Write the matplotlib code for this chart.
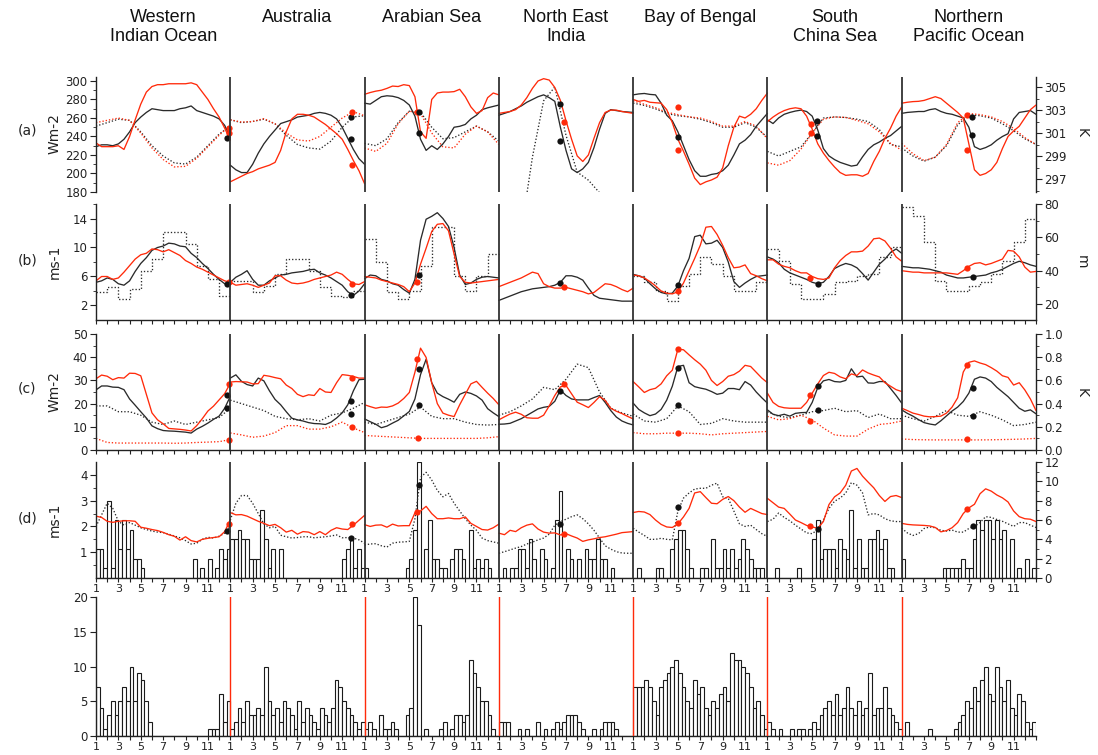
import numpy as np
import matplotlib
matplotlib.use("Agg")
import matplotlib.pyplot as plt

# ---------------------------------------------------------------- data
REGIONS = ["Western\nIndian Ocean", "Australia", "Arabian Sea", "North East\nIndia",
           "Bay of Bengal", "South\nChina Sea", "Northern\nPacific Ocean"]
HALF = np.arange(1.0, 13.01, 0.5)      # half-monthly sample points (25)
MON = np.arange(1, 14)                 # monthly points (13)
XLABELS = [1, 3, 5, 7, 9, 11]

# (a) radiation, Wm-2 (solid) ; SST, K (dotted)
A_RAD_RED = [
    [233, 229, 229, 229, 230, 226, 240, 258, 275, 288, 294, 296, 296, 297, 297, 297, 297, 298, 296, 288, 280, 270, 261, 249, 236],
    [191, 194, 197, 200, 202, 205, 207, 209, 212, 225, 245, 259, 264, 264, 263, 261, 257, 253, 248, 243, 237, 226, 214, 203, 189],
    [285.6, 287.5, 289, 290, 292, 294.5, 294, 296, 295, 283, 245, 238, 280, 287, 288, 288, 288.5, 291, 283, 272, 265, 268, 282, 287, 285],
    [265, 266, 267, 269, 274, 282, 292, 300, 302.5, 301, 293, 279, 257, 237, 219, 213, 220, 238, 255, 266, 268.5, 268.5, 267, 266, 265],
    [280, 278, 279, 277, 276.5, 276, 269, 255, 237, 224, 210, 195, 188, 191, 193, 196, 206, 230, 250, 262, 260, 264, 270, 279, 287],
    [256, 261, 265, 268, 270, 271, 270, 262, 248, 232, 222, 214, 207, 201, 198, 198.6, 198.6, 197, 200, 213, 224, 238, 249, 262, 272],
    [276, 277, 277.7, 278, 279, 281, 283, 281, 276, 271, 266, 260, 232, 204, 198, 200, 204, 212, 227, 240, 246, 251, 260, 269, 274],
]
A_RAD_BLACK = [
    [229, 231, 231, 230, 232, 237, 245, 255, 261, 266, 270, 269, 268, 268, 268, 270, 271, 273, 268, 266, 264, 262, 259, 252, 239],
    [209, 204, 201, 201, 210, 222, 232, 240, 247, 254, 256, 258, 261, 262, 263, 265, 266, 265, 263, 259, 250, 238, 226, 216, 210],
    [276, 275, 279, 283, 284, 283.5, 282, 279, 274, 262, 237, 225, 230, 226, 232, 240, 250, 251, 253, 259, 263, 269, 271, 272.5, 274],
    [263, 265, 267, 270, 273, 277, 280, 283, 285, 282, 278, 250, 225, 205, 201, 205, 212, 228, 248, 265, 269, 268, 267, 266.5, 266],
    [285, 286, 286.5, 285.5, 285, 276, 263, 257, 245, 230, 215, 203, 197, 197, 199, 200, 203, 209, 220, 232, 236, 242, 251, 258, 265],
    [258, 254, 260, 264, 266, 267.5, 268.5, 267, 262, 247, 227, 219, 215, 212, 210, 208, 209, 218, 226, 231, 234, 238, 241, 246, 251],
    [265, 266, 266.5, 267, 267, 269, 270, 267, 265, 264, 262, 260, 250, 229, 226, 228, 231, 236, 240, 243, 259, 266, 267, 268, 264],
]
A_SST_RED = [
    [301.9, 302.1, 302.3, 302.1, 301.0, 299.7, 298.7, 298.05, 298.1, 298.8, 299.8, 300.8, 301.7],
    [302.15, 301.95, 302.0, 302.25, 301.8, 301.0, 300.4, 300.3, 300.7, 301.5, 302.3, 302.85, 302.5],
    [299.7, 299.4, 300.1, 301.8, 302.9, 302.7, 301.0, 299.8, 299.7, 300.9, 301.6, 301.1, 300.0],
    None,
    [303.8, 303.5, 303.2, 302.8, 302.6, 302.4, 302.3, 302.0, 301.6, 301.6, 302.0, 301.6, 300.5],
    [298.4, 298.2, 298.6, 299.6, 301.0, 302.2, 302.4, 302.35, 302.1, 301.8, 301.1, 300.1, 299.5],
    [300.1, 299.2, 298.6, 298.9, 300.0, 301.9, 302.7, 302.6, 302.4, 302.0, 301.4, 300.6, 300.0],
]
A_SST_BLACK = [
    [301.6, 301.9, 302.2, 302.1, 301.1, 299.9, 299.0, 298.4, 298.3, 298.9, 299.9, 300.9, 301.6],
    [302.15, 301.9, 302.0, 302.2, 301.8, 300.8, 300.0, 299.7, 299.6, 300.3, 301.5, 302.4, 302.5],
    [300.1, 299.9, 300.5, 301.9, 302.9, 302.8, 301.5, 300.5, 300.6, 301.1, 301.6, 301.1, 300.3],
    [288, 290, 292.5, 298.9, 303.8, 305.0, 300.8, 297.6, 296.9, 295.8, 294, 293, 292],
    [303.6, 303.4, 303.1, 302.7, 302.5, 302.4, 302.2, 301.9, 301.5, 301.5, 301.9, 301.5, 300.6],
    [299.4, 299.0, 299.4, 299.8, 301.0, 302.3, 302.4, 302.35, 302.2, 302.0, 301.3, 300.0, 299.8],
    [299.7, 299.0, 298.55, 298.9, 299.9, 301.7, 302.6, 302.5, 302.3, 301.8, 301.2, 300.5, 300.0],
]
# onset markers: (region, month, value on left axis, colour)
A_DOTS = [(0, 12.85, 249, "r"), (0, 12.85, 244, "r"), (0, 12.7, 238, "k"),
          (1, 11.8, 261, "k"), (1, 11.8, 237.5, "k"), (1, 11.9, 267, "r"), (1, 11.9, 209, "r"),
          (2, 5.7, 267, "r"), (2, 5.85, 266, "k"), (2, 5.85, 243.6, "k"),
          (3, 6.45, 275, "k"), (3, 6.45, 234.6, "k"), (3, 6.8, 256, "r"),
          (4, 5.0, 271.5, "r"), (4, 5.0, 239.5, "k"), (4, 5.0, 225.5, "r"),
          (5, 4.85, 253.6, "r"), (5, 4.85, 244, "r"), (5, 5.45, 257, "k"), (5, 5.45, 240, "k"),
          (6, 6.8, 263, "r"), (6, 7.3, 261, "k"), (6, 7.3, 242, "k"), (6, 6.8, 225, "r")]

# (b) wind speed ms-1 (solid) ; mixed layer depth m (dotted, monthly)
B_WIND_RED = [
    [5.4, 6.0, 6.0, 5.6, 5.8, 6.6, 7.5, 8.4, 9.0, 9.2, 9.8, 9.7, 9.4, 9.7, 9.3, 8.9, 8.2, 7.8, 7.3, 7.0, 6.6, 6.2, 5.8, 5.4, 5.2],
    [5.2, 4.8, 4.9, 5.0, 4.8, 4.5, 4.8, 5.1, 6.1, 6.1, 5.5, 5.1, 5.0, 5.1, 5.3, 5.6, 5.8, 6.0, 6.2, 6.6, 6.3, 5.6, 5.0, 4.9, 5.3],
    [6.0, 5.9, 5.8, 5.5, 5.3, 5.1, 4.9, 4.6, 3.9, 5.1, 7.7, 9.9, 12.2, 13.2, 13.3, 12.3, 9.1, 6.0, 5.2, 5.1, 5.2, 5.3, 5.4, 5.5, 5.6],
    [4.6, 4.9, 5.2, 5.5, 5.8, 6.2, 6.6, 6.4, 5.0, 4.6, 4.4, 4.4, 4.5, 4.3, 4.1, 3.9, 3.6, 3.8, 4.4, 5.0, 4.9, 4.6, 4.2, 3.9, 4.4],
    [6.2, 6.1, 5.8, 5.3, 4.7, 4.0, 3.7, 3.6, 3.9, 5.1, 6.8, 8.5, 10.3, 12.8, 12.9, 11.8, 10.3, 8.6, 7.2, 7.3, 7.6, 6.4, 6.1, 5.7, 5.4],
    [8.3, 8.3, 7.7, 7.4, 7.2, 6.8, 6.5, 6.5, 6.0, 5.7, 5.6, 5.8, 7.2, 8.2, 8.9, 9.4, 9.4, 9.5, 10.2, 11.2, 11.3, 10.9, 9.9, 8.7, 8.1],
    [6.8, 6.7, 6.6, 6.6, 6.5, 6.5, 6.5, 6.5, 6.5, 6.4, 6.3, 6.8, 7.4, 7.8, 7.9, 7.6, 7.8, 8.1, 8.4, 9.6, 9.5, 8.7, 7.3, 6.6, 6.7],
]
B_WIND_BLACK = [
    [5.2, 5.4, 5.8, 5.6, 5.0, 4.8, 5.4, 6.7, 7.8, 8.6, 9.6, 10.0, 10.2, 10.6, 10.5, 10.2, 10.1, 9.2, 8.6, 7.8, 7.1, 6.3, 5.6, 5.0, 5.1],
    [5.2, 5.9, 6.3, 6.8, 5.6, 4.8, 4.8, 5.4, 5.8, 6.2, 6.3, 6.5, 6.6, 6.7, 6.9, 7.0, 6.5, 6.2, 5.8, 5.3, 4.8, 3.9, 3.4, 4.0, 5.0],
    [5.7, 6.2, 6.1, 5.6, 5.4, 5.0, 4.8, 4.2, 3.7, 5.6, 11.0, 13.9, 14.3, 14.8, 14.0, 12.9, 10.0, 6.2, 4.9, 5.1, 5.6, 5.9, 6.0, 5.9, 5.8],
    [2.7, 3.0, 3.3, 3.6, 3.9, 4.1, 4.3, 4.4, 4.5, 4.6, 4.8, 5.2, 6.1, 6.1, 5.9, 5.5, 4.4, 3.4, 3.0, 2.9, 2.8, 2.7, 2.6, 2.6, 2.6],
    [6.3, 6.1, 5.8, 5.0, 4.3, 3.8, 3.6, 3.7, 4.7, 6.8, 8.5, 11.5, 11.7, 10.5, 10.6, 11.0, 10.0, 8.0, 5.3, 4.5, 5.1, 5.6, 6.0, 6.1, 6.2],
    [8.7, 8.4, 7.9, 7.0, 6.5, 6.2, 5.9, 5.6, 5.2, 5.0, 5.2, 6.0, 7.1, 7.5, 7.8, 7.6, 7.2, 6.4, 5.5, 6.6, 7.7, 8.4, 9.3, 9.8, 9.2],
    [7.4, 7.3, 7.2, 7.2, 7.1, 7.0, 6.8, 6.6, 6.2, 6.0, 5.8, 5.8, 5.9, 6.0, 6.1, 6.2, 6.5, 6.7, 7.0, 7.4, 7.8, 8.1, 7.9, 7.6, 7.4],
]
B_MLD = [
    [27, 30, 23, 29, 40, 47, 63, 63, 56, 43, 35, 25],
    [34, 34, 27, 31, 38, 47, 47, 40, 30, 25, 24, 28],
    [59, 45, 27, 23, 28, 43, 66, 66, 37, 28, 37, 50],
    None,
    [37, 33, 28, 22, 31, 38, 48, 44, 37, 28, 28, 33],
    [53, 46, 32, 23, 23, 26, 33, 34, 37, 38, 48, 54],
    [78, 73, 57, 34, 28, 28, 31, 33, 38, 46, 57, 71],
]
B_DOTS = [(0, 12.85, 5.2, "r"), (0, 12.7, 4.95, "k"), (1, 11.9, 4.95, "r"), (1, 11.8, 3.5, "k"),
          (2, 5.85, 6.2, "k"), (2, 5.7, 5.2, "r"), (3, 6.45, 5.1, "k"), (3, 6.8, 4.6, "r"),
          (4, 5.05, 4.8, "k"), (4, 5.05, 4.0, "r"), (5, 4.83, 5.8, "r"), (5, 5.48, 5.0, "k"),
          (6, 6.85, 7.2, "r"), (6, 7.33, 5.9, "k")]

# (c) flux Wm-2 (solid) ; temperature difference K (dotted, monthly)
C_FLUX_RED = [
    [30.7, 32.3, 31.8, 30.3, 31.2, 31.0, 33.1, 33.0, 32.0, 24.0, 16.0, 13.0, 11.3, 9.3, 9.1, 8.9, 8.6, 8.2, 10.5, 13.5, 16.8, 18.9, 21.6, 24.3, 28.8],
    [29.3, 29.5, 29.4, 29.3, 28.5, 28.6, 32.2, 31.8, 31.2, 30.7, 28.0, 26.5, 24.0, 23.0, 23.8, 23.5, 26.5, 25.0, 24.8, 29.0, 32.5, 32.2, 31.7, 31.0, 31.0],
    [19.5, 18.7, 18.0, 18.5, 18.4, 19.0, 20.2, 22.2, 24.8, 33.5, 43.9, 39.9, 29.0, 20.0, 15.9, 15.0, 14.4, 19.5, 24.0, 28.5, 29.6, 27.0, 24.5, 22.2, 19.5],
    [13.0, 14.3, 15.5, 16.3, 15.4, 13.9, 13.7, 13.7, 15.0, 19.0, 23.5, 27.2, 27.8, 24.2, 20.6, 19.5, 18.3, 20.5, 23.0, 21.4, 18.0, 16.7, 15.7, 14.5, 13.4],
    [29.5, 27.2, 24.8, 26.0, 26.6, 28.5, 32.0, 34.4, 43.5, 43.2, 41.0, 38.9, 37.0, 34.4, 30.0, 27.8, 29.5, 31.8, 32.5, 34.0, 36.5, 36.0, 33.5, 31.0, 29.0],
    [24.5, 20.5, 18.8, 18.2, 18.0, 18.0, 18.0, 20.5, 24.5, 28.5, 32.1, 33.5, 33.0, 31.5, 30.7, 32.8, 32.1, 34.5, 33.2, 32.3, 31.5, 29.0, 27.5, 26.0, 25.2],
    [18.0, 17.0, 15.9, 15.3, 14.6, 14.3, 14.4, 14.6, 15.9, 18.5, 22.5, 33.6, 37.8, 38.4, 37.5, 36.8, 35.5, 34.0, 32.0, 31.3, 28.0, 29.0, 25.9, 22.0, 17.0],
]
C_FLUX_BLACK = [
    [25.9, 27.6, 27.6, 27.1, 27.0, 26.0, 22.0, 19.3, 16.5, 13.8, 10.4, 9.2, 8.4, 8.2, 8.1, 7.9, 7.7, 7.3, 9.0, 10.2, 11.6, 13.2, 14.6, 18.0, 23.1],
    [31.0, 32.4, 29.6, 28.2, 27.6, 31.0, 29.8, 25.5, 21.8, 19.5, 16.5, 13.7, 13.0, 12.5, 11.8, 11.4, 11.3, 11.0, 12.0, 13.8, 16.0, 19.5, 25.5, 30.3, 30.5],
    [13.4, 12.2, 11.1, 9.6, 10.3, 11.6, 12.8, 14.7, 16.6, 22.0, 32.5, 39.1, 29.0, 24.5, 23.0, 21.9, 20.6, 24.0, 25.0, 24.4, 23.3, 21.5, 17.8, 16.0, 14.4],
    [11.1, 11.2, 11.5, 12.5, 13.5, 14.9, 16.3, 17.7, 18.4, 18.8, 21.0, 25.9, 23.5, 22.0, 21.6, 21.6, 21.6, 22.6, 23.5, 20.5, 17.0, 14.2, 12.5, 11.5, 10.8],
    [20.2, 17.5, 16.0, 14.8, 15.5, 17.5, 21.5, 27.5, 36.0, 36.5, 29.0, 27.3, 26.7, 26.2, 25.2, 24.0, 24.5, 26.5, 26.5, 26.0, 29.5, 28.0, 25.0, 22.5, 20.2],
    [17.3, 15.4, 14.8, 15.4, 14.6, 15.8, 16.1, 16.2, 20.5, 27.0, 29.8, 30.4, 29.5, 29.3, 30.0, 35.0, 31.5, 31.8, 28.9, 28.8, 29.5, 29.5, 26.5, 23.5, 20.2],
    [17.3, 15.8, 14.6, 13.1, 11.8, 11.2, 10.8, 12.6, 14.7, 16.8, 18.5, 20.9, 24.5, 30.5, 31.5, 31.0, 29.5, 27.0, 25.0, 23.0, 20.5, 18.0, 16.7, 17.3, 15.6],
]
C_DT_BLACK = [
    [0.38, 0.38, 0.33, 0.33, 0.30, 0.24, 0.22, 0.25, 0.22, 0.24, 0.26, 0.28, 0.36],
    [0.43, 0.40, 0.37, 0.34, 0.29, 0.27, 0.26, 0.27, 0.25, 0.30, 0.32, 0.36, 0.41],
    [0.24, 0.22, 0.25, 0.28, 0.31, 0.37, 0.29, 0.27, 0.27, 0.24, 0.22, 0.215, 0.22],
    [0.30, 0.33, 0.38, 0.44, 0.54, 0.52, 0.61, 0.74, 0.71, 0.50, 0.36, 0.32, 0.29],
    [0.31, 0.25, 0.24, 0.27, 0.38, 0.33, 0.22, 0.23, 0.27, 0.25, 0.24, 0.24, 0.24],
    [0.33, 0.29, 0.28, 0.30, 0.33, 0.34, 0.36, 0.33, 0.34, 0.28, 0.31, 0.27, 0.27],
    [0.30, 0.27, 0.25, 0.29, 0.34, 0.30, 0.29, 0.33, 0.30, 0.26, 0.21, 0.22, 0.24],
]
C_DT_RED = [
    [0.10, 0.065, 0.06, 0.06, 0.06, 0.06, 0.06, 0.058, 0.06, 0.065, 0.068, 0.072, 0.09],
    [0.147, 0.13, 0.11, 0.12, 0.15, 0.21, 0.21, 0.18, 0.18, 0.20, 0.24, 0.19, 0.15],
    [0.125, 0.12, 0.115, 0.11, 0.105, 0.10, 0.10, 0.10, 0.10, 0.10, 0.10, 0.105, 0.115],
    None,
    [0.15, 0.14, 0.14, 0.145, 0.145, 0.145, 0.14, 0.13, 0.14, 0.145, 0.15, 0.155, 0.16],
    [0.29, 0.26, 0.27, 0.30, 0.26, 0.19, 0.13, 0.12, 0.12, 0.18, 0.22, 0.23, 0.25],
    [0.095, 0.09, 0.088, 0.087, 0.087, 0.087, 0.087, 0.087, 0.088, 0.09, 0.092, 0.095, 0.10],
]
C_DOTS = [(0, 12.85, 28.4, "r"), (0, 12.7, 23.8, "k"), (0, 12.7, 18.0, "k"), (0, 12.85, 4.3, "r"),
          (1, 11.9, 31.0, "r"), (1, 11.8, 21.2, "k"), (1, 11.8, 15.4, "k"), (1, 11.9, 9.7, "r"),
          (2, 5.72, 39.3, "r"), (2, 5.87, 35.0, "k"), (2, 5.87, 19.2, "k"), (2, 5.75, 5.3, "r"),
          (3, 6.46, 25.6, "k"), (3, 6.8, 28.4, "r"),
          (4, 5.05, 43.4, "r"), (4, 5.05, 35.3, "k"), (4, 5.05, 19.2, "k"), (4, 5.05, 7.5, "r"),
          (5, 4.83, 23.8, "r"), (5, 5.48, 27.8, "k"), (5, 5.48, 17.3, "k"), (5, 4.83, 12.7, "r"),
          (6, 6.85, 36.7, "r"), (6, 7.33, 26.9, "k"), (6, 7.33, 14.6, "k"), (6, 6.85, 4.6, "r")]

# (d) wind ms-1 (red solid, black dotted) ; counts (bars, right axis)
D_WIND_RED = [
    [2.4, 2.35, 2.2, 2.16, 2.2, 2.22, 2.22, 2.2, 1.97, 1.93, 1.88, 1.84, 1.77, 1.68, 1.62, 1.47, 1.6, 1.45, 1.4, 1.5, 1.54, 1.57, 1.6, 1.8, 2.25],
    [2.54, 2.45, 2.46, 2.4, 2.3, 2.2, 2.12, 2.03, 2.08, 1.95, 1.78, 1.85, 1.7, 1.8, 1.78, 1.68, 1.8, 1.68, 1.85, 1.95, 1.9, 1.88, 2.05, 2.24, 2.43],
    [2.07, 2.0, 2.05, 2.06, 1.97, 2.09, 2.02, 2.03, 2.03, 2.53, 2.6, 2.78, 2.5, 2.3, 2.3, 2.33, 2.3, 2.3, 2.37, 2.12, 2.0, 1.88, 1.86, 1.95, 2.09],
    [1.74, 1.68, 1.85, 1.8, 1.95, 2.05, 2.1, 1.9, 1.78, 1.74, 1.75, 1.67, 1.72, 1.63, 1.55, 1.42, 1.48, 1.52, 1.57, 1.6, 1.65, 1.7, 1.76, 1.78, 1.8],
    [2.54, 2.58, 2.56, 2.46, 2.25, 2.08, 1.98, 1.96, 2.1, 2.37, 2.7, 3.3, 3.35, 3.12, 2.9, 2.88, 3.05, 3.16, 3.0, 2.75, 2.55, 2.7, 2.6, 2.5, 2.46],
    [3.09, 2.92, 2.75, 2.7, 2.48, 2.25, 2.15, 2.04, 1.98, 1.93, 2.19, 2.85, 3.15, 3.3, 3.6, 4.15, 4.25, 3.95, 3.72, 3.5, 3.2, 2.97, 3.16, 3.2, 3.12],
    [2.12, 2.08, 2.06, 2.05, 2.04, 2.02, 1.96, 1.79, 1.84, 1.95, 2.15, 2.5, 2.72, 2.86, 3.27, 3.46, 3.37, 3.22, 3.11, 2.95, 2.6, 2.38, 2.3, 2.28, 2.19],
]
D_WIND_BLACK = [
    [2.0, 2.45, 2.9, 2.7, 2.2, 2.05, 2.15, 2.05, 1.95, 1.88, 1.82, 1.78, 1.76, 1.7, 1.63, 1.56, 1.45, 1.32, 1.35, 1.5, 1.58, 1.55, 1.62, 1.74, 2.0],
    [2.24, 2.9, 3.2, 3.2, 2.9, 2.5, 2.1, 1.95, 2.0, 1.66, 1.6, 1.55, 1.57, 1.6, 1.6, 1.56, 1.58, 1.6, 1.63, 1.67, 1.56, 1.57, 1.55, 1.48, 1.35],
    [1.28, 1.32, 1.33, 1.25, 1.2, 1.35, 1.39, 1.4, 1.42, 2.3, 3.9, 4.1, 3.8, 3.4, 3.15, 3.28, 2.9, 2.6, 2.3, 2.05, 1.85, 1.55, 1.45, 1.4, 1.35],
    [0.96, 1.02, 1.09, 1.16, 1.22, 1.32, 1.39, 1.48, 1.55, 1.7, 2.05, 2.19, 2.28, 2.38, 2.45, 2.3, 2.1, 1.85, 1.55, 1.25, 1.12, 1.02, 0.97, 0.96, 0.96],
    [1.93, 1.78, 1.65, 1.5, 1.5, 1.54, 1.5, 1.48, 2.6, 3.1, 3.3, 3.45, 3.48, 3.48, 3.6, 3.68, 3.15, 3.09, 2.6, 2.1, 2.0, 2.05, 1.88, 1.72, 1.61],
    [2.19, 2.28, 2.52, 2.35, 2.22, 2.05, 1.9, 1.75, 1.72, 1.88, 2.25, 2.7, 2.98, 3.1, 3.3, 3.7, 3.6, 3.3, 2.45, 2.5, 2.45, 2.3, 2.22, 2.19, 2.19],
    [1.93, 1.75, 1.65, 1.72, 1.92, 1.98, 1.95, 1.85, 1.82, 1.86, 1.78, 1.78, 1.92, 2.0, 2.15, 2.38, 2.35, 2.27, 2.2, 2.1, 2.0, 2.15, 2.15, 2.05, 1.96],
]
D_DOTS = [(0, 12.85, 2.1, "r"), (0, 12.7, 1.83, "k"), (1, 11.9, 2.08, "r"), (1, 11.8, 1.57, "k"),
          (2, 5.87, 3.62, "k"), (2, 5.72, 2.55, "r"), (3, 6.46, 2.08, "k"), (3, 6.82, 1.7, "r"),
          (4, 5.05, 2.74, "k"), (4, 5.05, 2.13, "r"), (5, 4.83, 2.0, "r"), (5, 5.48, 1.9, "k"),
          (6, 6.85, 2.67, "r"), (6, 7.33, 2.03, "k")]
D_BARS = [
    [3, 3, 1, 8, 1, 6, 3, 6, 3, 5, 2, 2, 1, 0, 0, 0, 0, 0, 0, 0, 0, 0, 0, 0, 0, 0, 2, 0, 1, 0, 2, 0, 1, 3, 2, 3],
    [4, 4, 5, 4, 4, 2, 2, 2, 7, 4, 1, 3, 0, 3, 0, 0, 0, 0, 0, 0, 0, 0, 0, 0, 0, 0, 0, 0, 0, 0, 2, 3, 4, 1, 3, 1],
    [1, 0, 0, 0, 0, 0, 0, 0, 0, 0, 0, 1, 2, 5, 12, 0, 3, 6, 2, 2, 1, 1, 0, 2, 3, 3, 2, 0, 5, 1, 2, 1, 2, 1, 0, 0],
    [0, 1, 0, 1, 1, 3, 3, 1, 4, 2, 0, 3, 2, 0, 1, 6, 9, 0, 3, 2, 0, 2, 0, 3, 2, 2, 4, 2, 2, 0, 1, 0, 0, 0, 0, 0],
    [0, 1, 0, 0, 0, 0, 1, 1, 0, 0, 3, 4, 5, 5, 3, 1, 0, 0, 1, 1, 0, 4, 1, 1, 3, 1, 3, 1, 2, 4, 3, 2, 1, 1, 1, 0],
    [0, 0, 1, 0, 0, 0, 0, 0, 1, 0, 0, 0, 4, 6, 2, 3, 3, 3, 1, 4, 3, 2, 7, 1, 4, 1, 1, 4, 4, 5, 3, 4, 1, 1, 0, 0],
    [2, 0, 0, 0, 0, 0, 0, 0, 0, 0, 0, 1, 1, 1, 1, 1, 2, 1, 1, 4, 6, 5, 6, 6, 4, 6, 4, 5, 0, 4, 0, 1, 0, 2, 0, 1],
]
# (e) counts
E_BARS = [
    [7, 4, 1, 3, 5, 3, 5, 7, 5, 10, 5, 9, 8, 5, 2, 0, 0, 0, 0, 0, 0, 0, 0, 0, 0, 0, 0, 0, 0, 0, 1, 1, 1, 6, 2, 5],
    [1, 2, 4, 2, 5, 3, 3, 4, 3, 10, 5, 3, 4, 2, 5, 4, 3, 1, 5, 2, 4, 3, 2, 1, 4, 3, 2, 4, 8, 7, 5, 4, 3, 2, 1, 2],
    [1, 2, 1, 0, 3, 1, 1, 2, 1, 0, 0, 3, 4, 20, 16, 0, 1, 0, 0, 0, 1, 2, 0, 1, 3, 3, 2, 3, 11, 9, 7, 5, 5, 3, 1, 0],
    [2, 2, 2, 0, 0, 1, 0, 1, 0, 0, 2, 0, 1, 0, 1, 2, 1, 2, 3, 3, 3, 2, 1, 0, 0, 1, 0, 1, 2, 2, 2, 1, 0, 0, 0, 0],
    [7, 7, 7, 8, 7, 5, 3, 7, 8, 9, 10, 11, 9, 7, 5, 4, 8, 6, 7, 4, 3, 5, 4, 6, 7, 5, 12, 11, 11, 10, 9, 7, 4, 5, 3, 1],
    [2, 1, 0, 1, 0, 0, 1, 0, 1, 1, 0, 1, 2, 1, 3, 4, 5, 3, 6, 3, 4, 7, 4, 3, 5, 3, 4, 9, 3, 4, 4, 7, 4, 3, 2, 1],
    [0, 2, 0, 0, 0, 0, 0, 1, 0, 0, 0, 0, 0, 0, 1, 2, 3, 5, 4, 7, 5, 8, 10, 6, 5, 10, 7, 5, 8, 4, 3, 6, 5, 2, 1, 2],
]

# ---------------------------------------------------------------- style
RED = "#ff2a0a"
BLK = "#2a2a2a"
COLS = {"r": RED, "k": "#111111"}
DOT_LS = (0, (1.0, 1.5))
LW = 0.95
W, H = 1098, 755
LEFT, RIGHT = 96, 1036
NREG = 7
TICKFS = 8.5

plt.rcParams["font.family"] = ["DejaVu Sans"]
fig = plt.figure(figsize=(W / 100, H / 100), dpi=100)


def add_row(top, bottom, ylim, ylim_r=None, xticks=True, xlabels=False):
    ax = fig.add_axes([LEFT / W, 1 - bottom / H, (RIGHT - LEFT) / W, (bottom - top) / H])
    ax.set_xlim(1, 12 * NREG + 1)
    ax.set_ylim(*ylim)
    ax.spines["top"].set_visible(False)
    ax.spines["right"].set_visible(False)
    ax.spines["bottom"].set_visible(xticks)
    for s in ax.spines.values():
        s.set_linewidth(1.0)
        s.set_color("#222222")
    ax.tick_params(axis="y", which="both", direction="out", labelsize=TICKFS,
                   colors="#222222", pad=2)
    ax.tick_params(axis="y", which="major", length=4)
    ax.tick_params(axis="y", which="minor", length=2.5)
    if xticks:
        pos = np.arange(1, 12 * NREG + 2)
        ax.set_xticks(pos)
        if xlabels:
            labs = []
            for p in pos:
                m = (p - 1) % 12 + 1
                labs.append(str(m) if (m in XLABELS and p < 12 * NREG + 1) else "")
            ax.set_xticklabels(labs)
        else:
            ax.set_xticklabels([])
        ax.tick_params(axis="x", direction="out", length=3, labelsize=TICKFS - 0.5,
                       pad=1, colors="#222222")
    else:
        ax.set_xticks([])
    tw = None
    if ylim_r is not None:
        tw = ax.twinx()
        tw.set_ylim(*ylim_r)
        for s in ["top", "left", "bottom"]:
            tw.spines[s].set_visible(False)
        tw.spines["right"].set_linewidth(1.0)
        tw.spines["right"].set_color("#222222")
        tw.tick_params(axis="y", which="both", direction="out", labelsize=TICKFS,
                       colors="#222222", pad=2)
        tw.tick_params(axis="y", which="major", length=4)
        tw.tick_params(axis="y", which="minor", length=2.5)
        ax.set_zorder(tw.get_zorder() + 1)
        ax.patch.set_visible(False)
    return ax, tw


def lines(ax, data, xs, color, ls, lw=LW):
    for r, vals in enumerate(data):
        if vals is None:
            continue
        ax.plot(12 * r + xs, vals, color=color, ls=ls, lw=lw, solid_capstyle="round")


def steps(ax, data):
    for r, vals in enumerate(data):
        if vals is None:
            continue
        ax.plot(12 * r + MON, np.append(vals, vals[-1]), drawstyle="steps-post",
                color=BLK, ls=DOT_LS, lw=LW)


def bars(ax, data):
    for r, vals in enumerate(data):
        x = 12 * r + 1 + np.arange(len(vals)) / 3.0
        ax.bar(x, vals, width=1 / 3.0, align="edge", facecolor="white",
               edgecolor="#1a1a1a", linewidth=0.8)


def dots(ax, data):
    for r, m, v, c in data:
        ax.plot(12 * r + m, v, "o", color=COLS[c], ms=4.5, mew=0, zorder=6, clip_on=False)


def separators(ax, color, lw):
    for r in range(1, NREG):
        ax.axvline(12 * r + 1, color=color, lw=lw, zorder=7)


# ---- row (a)
axa, twa = add_row(77, 192, (180, 304.3), (295.87, 305.87), xticks=False)
axa.set_yticks(range(180, 301, 20))
axa.set_yticks(range(190, 301, 20), minor=True)
twa.set_yticks([297, 299, 301, 303, 305])
twa.set_yticks([296, 298, 300, 302, 304], minor=True)
lines(twa, A_SST_BLACK, MON, BLK, DOT_LS)
lines(twa, A_SST_RED, MON, RED, DOT_LS)
lines(axa, A_RAD_BLACK, HALF, BLK, "-")
lines(axa, A_RAD_RED, HALF, RED, "-")
dots(axa, A_DOTS)
separators(axa, "#333333", 1.3)

# ---- row (b)
axb, twb = add_row(204, 320, (0, 16), (10.4, 80), xticks=True)
axb.set_yticks([2, 6, 10, 14])
axb.set_yticks([4, 8, 12, 16], minor=True)
twb.set_yticks([20, 40, 60, 80])
twb.set_yticks([30, 50, 70], minor=True)
steps(twb, B_MLD)
lines(axb, B_WIND_BLACK, HALF, BLK, "-")
lines(axb, B_WIND_RED, HALF, RED, "-")
dots(axb, B_DOTS)
separators(axb, "#333333", 1.3)

# ---- row (c)
axc, twc = add_row(334, 450, (0, 50), (0, 1.0), xticks=True)
axc.set_yticks(range(0, 51, 10))
axc.set_yticks(range(5, 50, 10), minor=True)
twc.set_yticks(np.arange(0, 1.01, 0.2))
twc.set_yticks(np.arange(0.1, 1.0, 0.2), minor=True)
twc.set_yticklabels(["%.1f" % v for v in np.arange(0, 1.01, 0.2)])
lines(twc, C_DT_BLACK, MON, BLK, DOT_LS)
lines(twc, C_DT_RED, MON, RED, DOT_LS)
lines(axc, C_FLUX_BLACK, HALF, BLK, "-")
lines(axc, C_FLUX_RED, HALF, RED, "-")
dots(axc, C_DOTS)
separators(axc, "#333333", 1.3)

# ---- row (d)
axd, twd = add_row(462, 578, (0, 4.5), (0, 12), xticks=True, xlabels=True)
axd.set_yticks([1, 2, 3, 4])
axd.set_yticks([0.5, 1.5, 2.5, 3.5], minor=True)
twd.set_yticks(range(0, 13, 2))
twd.set_yticks(range(1, 12, 2), minor=True)
bars(twd, D_BARS)
lines(axd, D_WIND_BLACK, HALF, BLK, DOT_LS)
lines(axd, D_WIND_RED, HALF, RED, "-")
dots(axd, D_DOTS)
separators(axd, "#333333", 1.3)

# ---- row (e)
axe, _ = add_row(597, 736, (0, 20), None, xticks=True, xlabels=True)
axe.set_yticks(range(0, 21, 5))
bars(axe, E_BARS)
separators(axe, RED, 1.0)

# ---- texts
for r, name in enumerate(REGIONS):
    cx = LEFT + (RIGHT - LEFT) / NREG * (r + 0.5)
    fig.text(cx / W, 1 - 9 / H, name, ha="center", va="top", fontsize=13,
             family=["Liberation Sans", "DejaVu Sans"], linespacing=1.12, color="#111111")

for lab, yc in [("(a)", 131), ("(b)", 260), ("(c)", 389), ("(d)", 518)]:
    fig.text(18 / W, 1 - yc / H, lab, ha="left", va="center", fontsize=10, color="#222222")

for lab, yc in [("Wm-2", 134), ("ms-1", 262), ("Wm-2", 392), ("ms-1", 520)]:
    fig.text(55 / W, 1 - yc / H, lab, ha="center", va="center", rotation=90,
             fontsize=10, color="#222222")

for lab, yc in [("K", 132), ("m", 262), ("K", 392)]:
    fig.text(1082 / W, 1 - yc / H, lab, ha="center", va="center", rotation=270,
             fontsize=10, color="#222222")

fig.savefig("out.png", dpi=100, facecolor="white")
